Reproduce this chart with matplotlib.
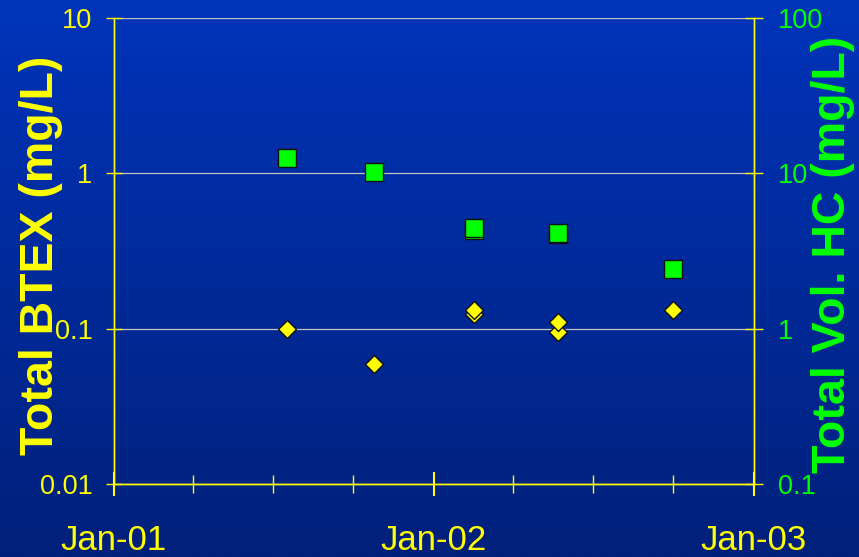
import matplotlib
matplotlib.use('Agg')
import matplotlib.pyplot as plt
import matplotlib.dates as mdates
import numpy as np
import pandas as pd
from matplotlib.ticker import FixedLocator, FixedFormatter, NullLocator

# ---- data ----
sample_dates = ['2001-07-17', '2001-10-24', '2002-02-16', '2002-02-16',
                '2002-05-23', '2002-05-23', '2002-10-01']
btex = [0.100, 0.059, 0.125, 0.131, 0.095, 0.111, 0.132]      # mg/L, left axis
vol_hc = [12.6, 10.2, 4.30, 4.45, 4.05, 4.15, 2.42]           # mg/L, right axis

x_tick_dates = ['2001-01-01', '2002-01-01', '2003-01-01']
x_tick_labels = ['Jan-01', 'Jan-02', 'Jan-03']
left_ticks = [0.01, 0.1, 1, 10]
left_labels = ['0.01', '0.1', '1', '10']
right_ticks = [0.1, 1, 10, 100]
right_labels = ['0.1', '1', '10', '100']

plt.rcParams['font.family'] = ['Liberation Sans', 'DejaVu Sans']

W, H = 859, 557
fig = plt.figure(figsize=(W / 100, H / 100), dpi=100)

# background gradient
bg = fig.add_axes([0, 0, 1, 1])
top = np.array([0, 52, 186]) / 255
bot = np.array([0, 32, 122]) / 255
t = np.linspace(0, 1, 256)[:, None]
grad = (top[None, :] * (1 - t) + bot[None, :] * t)[:, None, :]
bg.imshow(grad, aspect='auto', extent=[0, 1, 0, 1], interpolation='bilinear')
bg.axis('off')
bg.set_zorder(0)

ax = fig.add_axes([114 / W, 1 - 484 / H, 640 / W, 466 / H])
ax.set_facecolor('none')
ax.set_zorder(1)
ax2 = ax.twinx()
ax2.set_zorder(2)
ax2.set_facecolor('none')

yellow = '#FFFF00'
green = '#00FF00'

dates = pd.to_datetime(sample_dates)
ax.plot(dates, btex, linestyle='none', marker='D', markersize=9.0,
        markerfacecolor=yellow, markeredgecolor='#111111', markeredgewidth=1.0,
        zorder=3, clip_on=False)
ax2.plot(dates, vol_hc, linestyle='none', marker='s', markersize=13.0,
         markerfacecolor=green, markeredgecolor='#111111', markeredgewidth=1.0,
         zorder=3, clip_on=False)

# x axis
ax.set_xlim(pd.Timestamp('2001-01-01'), pd.Timestamp('2003-01-01'))
ax.xaxis.set_major_locator(FixedLocator(mdates.date2num(pd.to_datetime(x_tick_dates))))
ax.xaxis.set_major_formatter(FixedFormatter(x_tick_labels))
ax.xaxis.set_minor_locator(mdates.MonthLocator(bymonth=[4, 7, 10]))
ax.tick_params(axis='x', which='major', direction='inout', length=17, width=1.5,
               color=yellow, labelcolor=yellow, labelsize=25, pad=20.5)
ax.tick_params(axis='x', which='minor', direction='inout', length=13, width=1.0,
               color=yellow)

# left y axis
ax.set_yscale('log')
ax.set_ylim(0.01, 10)
ax.yaxis.set_major_locator(FixedLocator(left_ticks))
ax.yaxis.set_major_formatter(FixedFormatter(left_labels))
ax.yaxis.set_minor_locator(NullLocator())
ax.tick_params(axis='y', which='major', direction='inout', length=12, width=1.0,
               color=yellow, labelcolor=yellow, labelsize=19.5, pad=9.5)
ax.grid(True, axis='y', which='major', color='#c4c4c4', linewidth=0.9, zorder=1)
ax.set_axisbelow(True)

# right y axis
ax2.set_yscale('log')
ax2.set_ylim(0.1, 100)
ax2.yaxis.set_major_locator(FixedLocator(right_ticks))
ax2.yaxis.set_major_formatter(FixedFormatter(right_labels))
ax2.yaxis.set_minor_locator(NullLocator())
ax2.tick_params(axis='y', which='major', direction='inout', length=13, width=1.0,
                color=yellow, labelcolor=green, labelsize=19.5, pad=10.5)

for a in (ax, ax2):
    a.spines['top'].set_visible(False)
    for s in ('left', 'right', 'bottom'):
        a.spines[s].set_color(yellow)
        a.spines[s].set_linewidth(1.0)

fig.text(41.5 / W, 1 - 255 / H, 'Total BTEX (mg/L)', rotation=90, color=yellow,
         fontsize=33.5, fontweight='bold', ha='center', va='center')
fig.text(833 / W, 1 - 254 / H, 'Total Vol. HC (mg/L)', rotation=90, color=green,
         fontsize=33.5, fontweight='bold', ha='center', va='center')

fig.savefig('out.png', dpi=100)
